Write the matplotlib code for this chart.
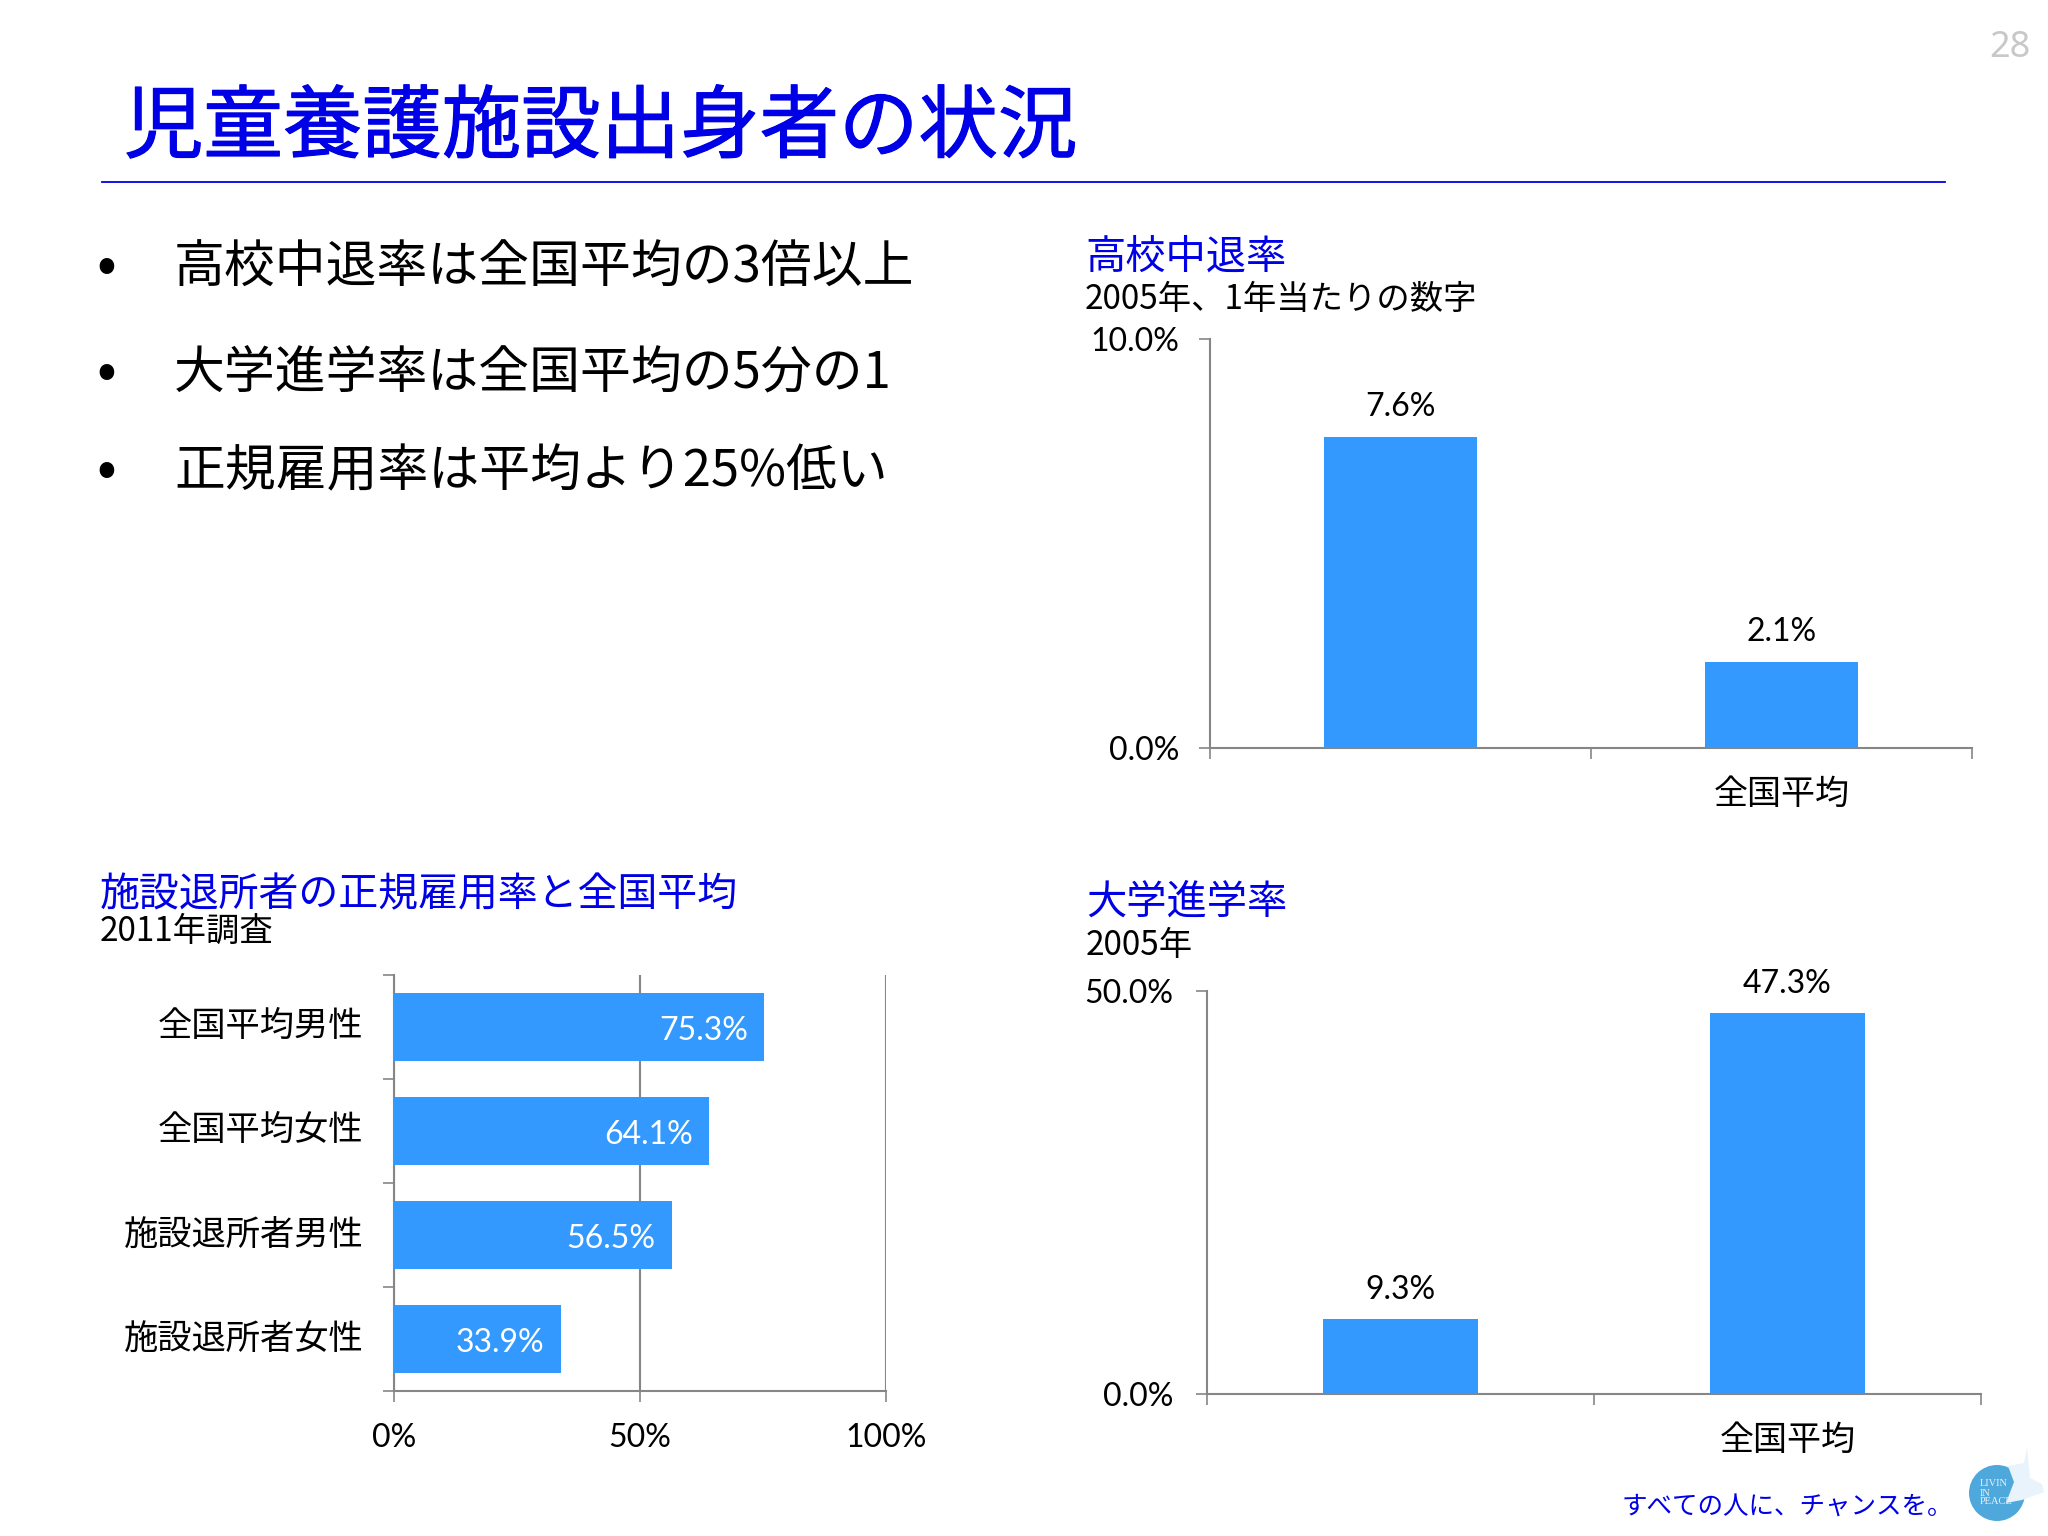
import matplotlib
matplotlib.use('Agg')
import matplotlib.pyplot as plt
import matplotlib.patheffects as pe
from matplotlib.patches import Circle, Polygon
from matplotlib.transforms import ScaledTranslation

plt.rcParams['font.family'] = ['Noto Sans CJK JP', 'DejaVu Sans']

# data
dropout_cats = ['', '全国平均']
dropout_vals = [7.6, 2.1]
college_cats = ['', '全国平均']
college_vals = [9.3, 47.3]
employ_cats = ['全国平均男性', '全国平均女性', '施設退所者男性', '施設退所者女性']
employ_vals = [75.3, 64.1, 56.5, 33.9]
bullets = ['高校中退率は全国平均の3倍以上', '大学進学率は全国平均の5分の1', '正規雇用率は平均より25%低い']

W, H = 2048, 1536
BLUE = '#0000e6'
BAR = '#3399ff'
GRAY = '#868686'
NUM_FONT = ['Lato', 'Noto Sans CJK JP']

fig = plt.figure(figsize=(W / 100, H / 100), dpi=100, facecolor='white')


def px_axes(left, top, right, bottom):
    return fig.add_axes([left / W, 1 - bottom / H, (right - left) / W, (bottom - top) / H])


# page overlay in pixel coordinates
page = fig.add_axes([0, 0, 1, 1])
page.set_xlim(0, W)
page.set_ylim(H, 0)
page.axis('off')

page.text(124, 129, '児童養護施設出身者の状況', color=BLUE, fontsize=57.2, va='center',
          path_effects=[pe.withStroke(linewidth=0.8, foreground=BLUE)])
page.plot([102, 1950 - 5], [182, 182], color=BLUE, lw=1.3)
page.text(2010, 48, '28', color='#c8c8c8', fontsize=26, ha='center', va='center', family='Noto Sans')

for txt, y in zip(bullets, [269, 374, 472]):
    page.text(106, y - 2, '•', fontsize=42, ha='center', va='center', color='black')
    page.text(174, y, txt, fontsize=36.6, va='center', color='black')

page.text(1085, 257, '高校中退率', color=BLUE, fontsize=29, va='center')
page.text(1085, 300, '2005年、1年当たりの数字', fontsize=24, va='center', color='black')
page.text(1086, 902, '大学進学率', color=BLUE, fontsize=29, va='center')
page.text(1086, 945, '2005年', fontsize=24, va='center', color='black')
page.text(100, 895, '施設退所者の正規雇用率と全国平均', color=BLUE, fontsize=28.75, va='center')
page.text(100, 931, '2011年調査', fontsize=24, va='center', color='black')
page.text(1622, 1507, 'すべての人に、チャンスを。', color=BLUE, fontsize=18.4, va='center')

# logo
page.add_patch(Circle((1997, 1493), 28, color='#4fa8dc', lw=0))
page.add_patch(Polygon([(2027, 1447), (2024, 1463), (2008, 1466), (2014, 1482), (2006, 1503),
                        (2022, 1500), (2044, 1492), (2042, 1484), (2030, 1478)],
                       closed=True, color='#e9f3fb', lw=0))
page.text(1980, 1493, 'LIVIN\nIN\nPEACE', color='#e6f2fb', fontsize=7.5, va='center',
          family='Liberation Serif', linespacing=1.0)


def style_axis(ax):
    for side in ['top', 'right']:
        ax.spines[side].set_visible(False)
    for side in ['left', 'bottom']:
        ax.spines[side].set_color(GRAY)
        ax.spines[side].set_linewidth(1.5)
    ax.patch.set_alpha(0)
    ax.tick_params(which='major', color=GRAY, width=1.2, length=8)
    ax.tick_params(which='minor', length=0)


def column_chart(box, cats, vals, ymax, pad, label_gap):
    ax = px_axes(*box)
    positions = [i + 0.5 for i in range(len(vals))]
    ax.bar(positions, vals, width=0.4, color=BAR)
    ax.set_xlim(0, len(vals))
    ax.set_ylim(0, ymax)
    ax.set_xticks(range(len(vals) + 1))
    ax.set_xticklabels([])
    ax.set_xticks(positions, labels=cats, minor=True)
    ax.set_yticks([0, ymax])
    ax.set_yticklabels([f'{t:.1f}%' for t in [0, ymax]], family=NUM_FONT, fontsize=23)
    ax.tick_params(axis='x', which='minor', labelsize=24.5, pad=21)
    ax.tick_params(axis='y', pad=pad)
    style_axis(ax)
    for x, v in zip(positions, vals):
        ax.annotate(f'{v:.1f}%', (x, v), xytext=(0, label_gap), textcoords='offset points',
                    ha='center', va='center', fontsize=23, family=NUM_FONT, color='black')
    return ax


column_chart((1210, 339, 1972, 748), dropout_cats, dropout_vals, 10, 14, 22)
column_chart((1207, 991, 1981, 1394), college_cats, college_vals, 50, 16, 21)

# horizontal chart
ax = px_axes(394, 975, 886, 1391)
ypos = [i + 0.5 for i in range(len(employ_vals))]
ax.barh(ypos, employ_vals, height=0.66, color=BAR, zorder=3)
ax.set_xlim(0, 100)
ax.set_ylim(len(employ_vals), 0)
ax.set_xticks([0, 50, 100])
ax.set_xticklabels(['0%', '50%', '100%'], family=NUM_FONT, fontsize=23)
ax.set_yticks(range(len(employ_vals) + 1))
ax.set_yticklabels([])
ax.set_yticks(ypos, labels=employ_cats, minor=True)
ax.tick_params(axis='y', which='minor', labelsize=24.7, pad=22)
ax.tick_params(axis='x', pad=15)
ax.grid(axis='x', color=GRAY, lw=1.5)
ax.set_axisbelow(True)
style_axis(ax)
shift_up = ScaledTranslation(0, 2.5 / 72, fig.dpi_scale_trans)
for label in ax.get_yticklabels(minor=True):
    label.set_transform(label.get_transform() + shift_up)
for y, v in zip(ypos, employ_vals):
    ax.annotate(f'{v:.1f}%', (v, y), xytext=(-12, -3), textcoords='offset points', ha='right',
                va='center', fontsize=23, family=NUM_FONT, color='white', zorder=4)

fig.savefig('out.png', dpi=100)
